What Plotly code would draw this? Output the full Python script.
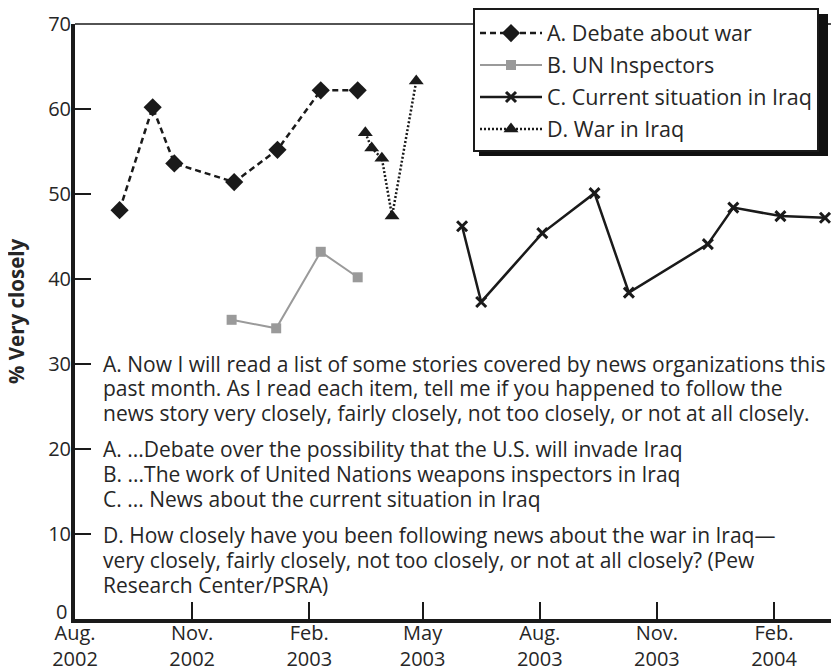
import plotly.graph_objects as go

# % Data
debate_dates = ["2002-09-05", "2002-10-01", "2002-10-18", "2002-12-04",
                "2003-01-07", "2003-02-10", "2003-03-11"]
debate_vals = [48.1, 60.2, 53.6, 51.4, 55.2, 62.2, 62.2]

inspectors_dates = ["2002-12-02", "2003-01-06", "2003-02-10", "2003-03-11"]
inspectors_vals = [35.2, 34.2, 43.2, 40.2]

current_dates = ["2003-06-01", "2003-06-16", "2003-08-03", "2003-09-13", "2003-10-10",
                 "2003-12-11", "2003-12-31", "2004-02-06", "2004-03-12"]
current_vals = [46.2, 37.3, 45.4, 50.1, 38.4, 44.1, 48.4, 47.4, 47.2]

war_dates = ["2003-03-17", "2003-03-22", "2003-03-30", "2003-04-07", "2003-04-26"]
war_vals = [57.2, 55.4, 54.2, 47.4, 63.3]

tick_dates = ["2002-08-01", "2002-11-01", "2003-02-01", "2003-05-01",
              "2003-08-01", "2003-11-01", "2004-02-01"]
tick_text = ["Aug.<br>2002", "Nov.<br>2002", "Feb.<br>2003", "May<br>2003",
             "Aug.<br>2003", "Nov.<br>2003", "Feb.<br>2004"]
y_ticks = [10, 20, 30, 40, 50, 60, 70]

note_lines = [
    "A. Now I will read a list of some stories covered by news organizations this",
    "past month. As I read each item, tell me if you happened to follow the",
    "news story very closely, fairly closely, not too closely, or not at all closely.",
    "A. ...Debate over the possibility that the U.S. will invade Iraq",
    "B. ...The work of United Nations weapons inspectors in Iraq",
    "C. ... News about the current situation in Iraq",
    "D. How closely have you been following news about the war in Iraq\u2014",
    "very closely, fairly closely, not too closely, or not at all closely? (Pew",
    "Research Center/PSRA)",
]

FONT = "Open Sans"
TEXT = "#262626"
# page body has an 8px margin, so the figure is shrunk to fit the 839x670 window
OFF = 8
W, H = 839 - OFF, 670 - OFF
L, R, T, B = 75 - OFF, 0, 24 - OFF, 51

fig = go.Figure()
fig.add_trace(go.Scatter(
    x=debate_dates, y=debate_vals, name="A. Debate about war", legendgroup="a",
    mode="lines+markers",
    line=dict(color="#1a1a1a", width=2.5, dash="6px,4px"),
    marker=dict(symbol="diamond", size=14, color="#1a1a1a"),
))
fig.add_trace(go.Scatter(
    x=inspectors_dates, y=inspectors_vals, name="B. UN Inspectors", legendgroup="b",
    mode="lines+markers",
    line=dict(color="#9a9a9a", width=2),
    marker=dict(symbol="square", size=10, color="#9a9a9a"),
))
fig.add_trace(go.Scatter(
    x=current_dates, y=current_vals, name="C. Current situation in Iraq", legendgroup="c",
    mode="lines+markers",
    line=dict(color="#1a1a1a", width=2.5),
    marker=dict(symbol="x-thin", size=10, color="#1a1a1a",
                line=dict(width=3, color="#1a1a1a")),
))
fig.add_trace(go.Scatter(
    x=war_dates, y=war_vals, name="D. War in Iraq", legendgroup="d",
    mode="lines+markers",
    line=dict(color="#1a1a1a", width=2.5, dash="2px,2px"),
    marker=dict(symbol="triangle-up", size=13, color="#1a1a1a"),
))

pw, ph = W - L - R, H - T - B


def px_x(px):
    # page pixel -> paper x
    return (px - OFF - L) / pw


def px_y(py):
    # page pixel -> paper y
    return (H - B - (py - OFF)) / ph


# Note text, one annotation per line
line_y = [362, 386, 411, 447, 472, 497, 533, 558, 583]
for txt, py in zip(note_lines, line_y):
    fig.add_annotation(
        text=txt, xref="paper", yref="paper", x=px_x(101), y=px_y(py + 2),
        xanchor="left", yanchor="middle", showarrow=False,
        font=dict(family=FONT, size=21, color=TEXT),
    )

fig.add_annotation(
    text="<b>% Very closely</b>", xref="paper", yref="paper",
    x=px_x(16), y=px_y(311), textangle=-90, showarrow=False,
    xanchor="center", yanchor="middle",
    font=dict(family=FONT, size=20.5, color=TEXT),
)
# zero label sits a little above the axis line
fig.add_annotation(
    text="0", xref="paper", yref="paper", x=px_x(69), y=px_y(611),
    xanchor="right", yanchor="middle", showarrow=False,
    font=dict(family=FONT, size=20, color=TEXT),
)

# thin top border and legend shadow
fig.add_shape(type="line", xref="paper", yref="paper", x0=0, x1=1, y0=1, y1=1,
              line=dict(color="#1a1a1a", width=1.5), layer="above")
fig.add_shape(type="rect", xref="paper", yref="paper",
              x0=px_x(479), x1=px_x(828), y0=px_y(156), y1=px_y(14),
              fillcolor="#111111", line=dict(width=0), layer="above")

fig.update_layout(
    width=W, height=H,
    margin=dict(l=L, r=R, t=T, b=B, autoexpand=False),
    paper_bgcolor="white", plot_bgcolor="white",
    font=dict(family=FONT, size=20, color=TEXT),
    showlegend=True,
    legend=dict(
        x=px_x(473), y=px_y(8), xanchor="left", yanchor="top",
        bgcolor="white", bordercolor="#1a1a1a", borderwidth=2,
        font=dict(family=FONT, size=21.5, color=TEXT),
        title=dict(text=" ", font=dict(size=2)),
        tracegroupgap=1, itemwidth=62, entrywidth=280,
    ),
    xaxis=dict(
        type="date", range=["2002-08-01", "2004-03-23"],
        tickvals=tick_dates, ticktext=tick_text,
        ticks="inside", ticklen=17, tickwidth=1.5, tickcolor="#1a1a1a",
        showline=True, linewidth=4, linecolor="#1a1a1a",
        showgrid=False, zeroline=False, automargin=False,
        ticklabelstandoff=-7,
        tickfont=dict(family=FONT, size=20, color=TEXT),
    ),
    yaxis=dict(
        range=[0, 70], tickvals=y_ticks,
        ticks="inside", ticklen=16, tickwidth=2, tickcolor="#1a1a1a",
        showline=True, linewidth=4, linecolor="#1a1a1a",
        showgrid=False, zeroline=False, automargin=False,
        ticklabelstandoff=-4,
        tickfont=dict(family=FONT, size=20, color=TEXT),
    ),
)

fig.write_html("out.html")
